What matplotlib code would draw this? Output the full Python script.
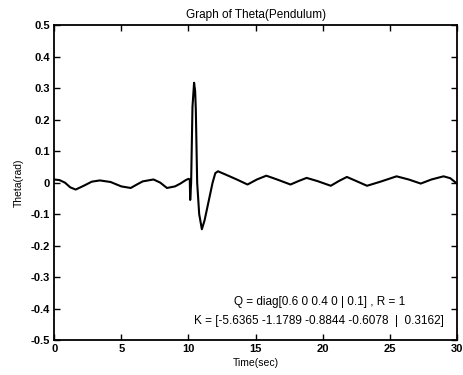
import matplotlib
matplotlib.use("Agg")
import matplotlib.pyplot as plt

plt.rcParams["font.family"] = ["Liberation Sans", "DejaVu Sans"]

# theta response
time_sec = [0.0, 0.4, 0.8, 1.2, 1.6, 2.2, 2.8, 3.4, 4.2, 5.0, 5.7, 6.2, 6.6,
            7.4, 7.9, 8.4, 9.0, 9.4, 9.8, 10.0, 10.1, 10.13, 10.2, 10.3,
            10.42, 10.5, 10.55, 10.65, 10.8, 11.0, 11.2, 11.5, 11.8, 12.0,
            12.2, 12.8, 13.6, 14.4, 15.1, 15.8, 16.6, 17.6, 18.2, 18.8,
            19.6, 20.6, 21.2, 21.8, 22.5, 23.3, 24.3, 25.5, 26.4, 27.3,
            28.1, 29.0, 29.5, 30.0]
theta_rad = [0.01, 0.008, 0.0, -0.015, -0.022, -0.01, 0.003, 0.007, 0.002,
             -0.012, -0.017, -0.005, 0.004, 0.01, 0.0, -0.017, -0.012,
             -0.003, 0.008, 0.012, 0.01, -0.055, 0.0, 0.24, 0.317, 0.29,
             0.23, 0.0, -0.1, -0.148, -0.12, -0.06, 0.0, 0.03, 0.036, 0.025,
             0.01, -0.006, 0.01, 0.022, 0.01, -0.006, 0.005, 0.015, 0.005,
             -0.01, 0.005, 0.018, 0.005, -0.01, 0.003, 0.02, 0.01, -0.003,
             0.01, 0.02, 0.014, -0.003]

x_ticks = [0, 5, 10, 15, 20, 25, 30]
y_ticks = [-0.5, -0.4, -0.3, -0.2, -0.1, 0, 0.1, 0.2, 0.3, 0.4, 0.5]
y_tick_labels = ["-0.5", "-0.4", "-0.3", "-0.2", "-0.1", "0",
                 "0.1", "0.2", "0.3", "0.4", "0.5"]

q_text = "Q = diag[0.6 0 0.4 0 | 0.1] , R = 1"
k_text = "K = [-5.6365 -1.1789 -0.8844 -0.6078  |  0.3162]"

fig = plt.figure(figsize=(4.63, 3.75), dpi=100)
ax = fig.add_axes([0.117, 0.093, 0.870, 0.840])

ax.plot(time_sec, theta_rad, color="black", linewidth=1.5)

ax.set_xlim(0, 30)
ax.set_ylim(-0.5, 0.5)
ax.set_xticks(x_ticks)
ax.set_yticks(y_ticks)
ax.set_yticklabels(y_tick_labels)
ax.tick_params(direction="in", length=4, width=1, top=True, right=True,
               labelsize=8, pad=3)
for lbl in ax.get_xticklabels() + ax.get_yticklabels():
    lbl.set_fontweight("bold")
for side in ax.spines.values():
    side.set_linewidth(1.3)

ax.set_title("Graph of Theta(Pendulum)", fontsize=8.5, pad=5)
ax.set_xlabel("Time(sec)", fontsize=7.5, labelpad=3)
ax.set_ylabel("Theta(rad)", fontsize=7.5, labelpad=5)

ax.text(19.8, -0.378, q_text, fontsize=8.5, ha="center", va="center")
ax.text(19.7, -0.44, k_text, fontsize=8.5, ha="center", va="center")

fig.savefig("out.png", dpi=100)
